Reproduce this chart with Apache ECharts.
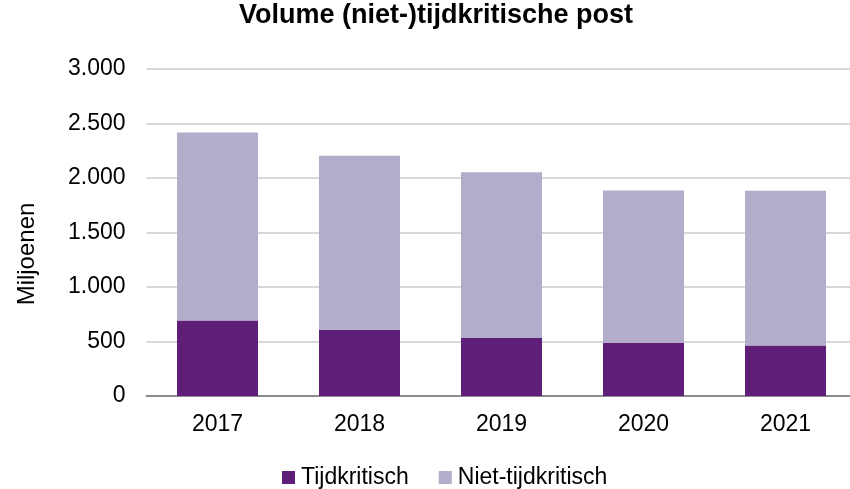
<!DOCTYPE html>
<html>
<head>
<meta charset="utf-8">
<script src="https://cdn.jsdelivr.net/npm/echarts@6/dist/echarts.min.js"></script>
<style>
  html, body { margin: 0; padding: 0; background: #fff; overflow: hidden; }
  #chart { width: 860px; height: 489px; }
</style>
</head>
<body>
<div id="chart"></div>
<script>
// data (millions)
const years = ['2017', '2018', '2019', '2020', '2021'];
const tijdkritisch = [692, 607, 533, 488, 464];
const nietTijdkritisch = [1726, 1598, 1519, 1397, 1418];

const font = '"Liberation Sans", Arial, sans-serif';

// chart box is a little wider than the window so the last category is not squeezed
const chart = echarts.init(document.getElementById('chart'), null, { renderer: 'canvas' });

chart.setOption({
    animation: false,
    title: {
        text: 'Volume (niet-)tijdkritische post',
        left: 436,
        textAlign: 'center',
        top: 2,
        padding: 0,
        textStyle: { fontFamily: font, fontSize: 27, fontWeight: 'bold', color: '#000' }
    },
    legend: {
        top: 461,
        left: 277,
        itemWidth: 13,
        itemHeight: 13,
        itemGap: 30,
        icon: 'rect',
        textStyle: { fontFamily: font, fontSize: 23, color: '#000', padding: [0, 0, 0, 1] },
        data: ['Tijdkritisch', 'Niet-tijdkritisch']
    },
    graphic: [{
        type: 'text',
        x: 27,
        y: 254,
        rotation: Math.PI / 2,
        style: {
            text: 'Miljoenen',
            font: '24px ' + font,
            fill: '#000',
            align: 'center',
            verticalAlign: 'middle'
        }
    }],
    grid: {
        left: 146.5,
        top: 69,
        width: 710,
        height: 327,
        containLabel: false
    },
    xAxis: {
        type: 'category',
        data: years,
        axisLine: { lineStyle: { color: '#8c8c8c', width: 2 } },
        axisTick: { show: false },
        axisLabel: { fontFamily: font, fontSize: 23, color: '#000', margin: 17 }
    },
    yAxis: {
        type: 'value',
        min: 0,
        max: 3000,
        interval: 500,
        axisLine: { show: false },
        axisTick: { show: false },
        splitLine: { lineStyle: { color: '#d9d9d9', width: 2 } },
        axisLabel: {
            fontFamily: font, fontSize: 23, color: '#000', margin: 21,
            formatter: v => v.toLocaleString('nl-NL')
        }
    },
    series: [
        {
            name: 'Tijdkritisch',
            type: 'bar',
            stack: 'total',
            barWidth: 81,
            data: tijdkritisch,
            itemStyle: { color: '#5f1f78' }
        },
        {
            name: 'Niet-tijdkritisch',
            type: 'bar',
            stack: 'total',
            barWidth: 81,
            data: nietTijdkritisch,
            itemStyle: { color: '#b1adca' }
        }
    ]
});
</script>
</body>
</html>
